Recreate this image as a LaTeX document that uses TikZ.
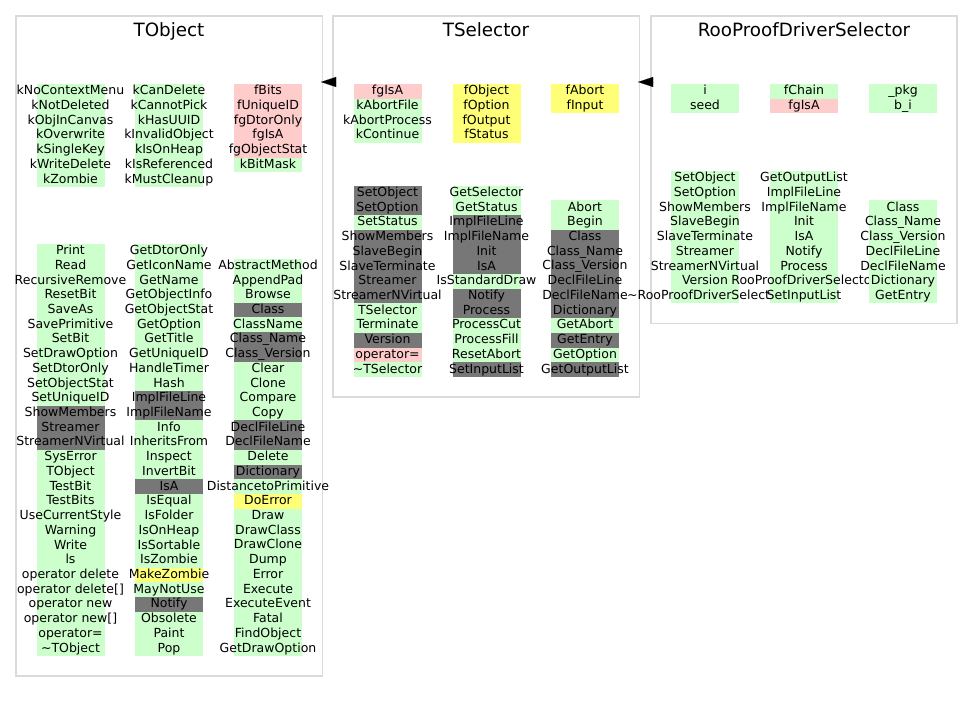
\documentclass[tikz,border=0pt]{standalone}
\usepackage{fontspec}
\setmainfont{DejaVu Sans}
\usetikzlibrary{arrows.meta}
\definecolor{cG}{RGB}{204,255,204}
\definecolor{cR}{RGB}{255,204,204}
\definecolor{cY}{RGB}{255,255,119}
\definecolor{cK}{RGB}{119,119,119}
\definecolor{boxline}{RGB}{218,218,218}
\newcommand\rh{14.72}
% #1 x centre, #2 top y, #3 list colour/text
\newcommand\colblock[3]{%
  \foreach \c/\t [count=\i from 0] in {#3} {
    \fill[\c] ({#1-34},{#2+\i*\rh}) rectangle ({#1+34},{#2+\i*\rh+\rh});
    \node[cell] at (#1,{#2+\i*\rh+10.8}) {\t};
  }}
\tikzset{
  cell/.style={anchor=base,inner sep=0pt,font=\fontsize{12.5}{14}\selectfont},
  classbox/.style={draw=boxline,line width=1.4pt},
  classtitle/.style={anchor=base,inner sep=0pt,font=\fontsize{18.3}{20}\selectfont},
  inherit/.style={-{Triangle[length=15pt,width=10pt]},line width=0.01pt},
}
\begin{document}
\begin{tikzpicture}[x=1pt,y=-1pt]
\useasboundingbox (0,0) rectangle (973,703);
% boxes
\draw[classbox] (16,16) rectangle (322.5,676);
\draw[classbox] (333,16) rectangle (639.5,397);
\draw[classbox] (651,16) rectangle (957,323.5);
\node[classtitle] (tobject) at (169,37) {TObject};
\node[classtitle] (tselector) at (486,37) {TSelector};
\node[classtitle] (rpds) at (804,37) {RooProofDriverSelector};
% inheritance arrows
\coordinate (to-tip) at (321,82);
\coordinate (ts-base) at (336,82);
\coordinate (ts-tip) at (638,82);
\coordinate (rp-base) at (653.5,82);
\draw[inherit] (ts-base) -- (to-tip);
\draw[inherit] (rp-base) -- (ts-tip);
% ---------------- TObject
\colblock{70.5}{84}{cG/kNoContextMenu,cG/kNotDeleted,cG/kObjInCanvas,cG/kOverwrite,cG/kSingleKey,cG/kWriteDelete,cG/kZombie}
\colblock{169}{84}{cG/kCanDelete,cG/kCannotPick,cG/kHasUUID,cG/kInvalidObject,cG/kIsOnHeap,cG/kIsReferenced,cG/kMustCleanup}
\colblock{268}{84}{cR/fBits,cR/fUniqueID,cR/fgDtorOnly,cR/fgIsA,cR/fgObjectStat,cG/kBitMask}
\colblock{70.5}{243.8}{cG/Print,cG/Read,cG/RecursiveRemove,cG/ResetBit,cG/SaveAs,cG/SavePrimitive,cG/SetBit,cG/SetDrawOption,cG/SetDtorOnly,cG/SetObjectStat,cG/SetUniqueID,cK/ShowMembers,cK/Streamer,cK/StreamerNVirtual,cG/SysError,cG/TObject,cG/TestBit,cG/TestBits,cG/UseCurrentStyle,cG/Warning,cG/Write,cG/ls,cG/{operator delete},cG/{operator delete[]},cG/{operator new},cG/{operator new[]},cG/{operator=},cG/{\textasciitilde TObject}}
\colblock{169}{243.8}{cG/GetDtorOnly,cG/GetIconName,cG/GetName,cG/GetObjectInfo,cG/GetObjectStat,cG/GetOption,cG/GetTitle,cG/GetUniqueID,cG/HandleTimer,cG/Hash,cK/ImplFileLine,cK/ImplFileName,cG/Info,cG/InheritsFrom,cG/Inspect,cG/InvertBit,cK/IsA,cG/IsEqual,cG/IsFolder,cG/IsOnHeap,cG/IsSortable,cG/IsZombie,cY/MakeZombie,cG/MayNotUse,cK/Notify,cG/Obsolete,cG/Paint,cG/Pop}
\colblock{268}{258.5}{cG/AbstractMethod,cG/AppendPad,cG/Browse,cK/Class,cG/ClassName,cK/{Class\_Name},cK/{Class\_Version},cG/Clear,cG/Clone,cG/Compare,cG/Copy,cK/DeclFileLine,cK/DeclFileName,cG/Delete,cK/Dictionary,cG/DistancetoPrimitive,cY/DoError,cG/Draw,cG/DrawClass,cG/DrawClone,cG/Dump,cG/Error,cG/Execute,cG/ExecuteEvent,cG/Fatal,cG/FindObject,cG/GetDrawOption}
% ---------------- TSelector
\colblock{387.5}{84}{cR/fgIsA,cG/kAbortFile,cG/kAbortProcess,cG/kContinue}
\colblock{486.5}{84}{cY/fObject,cY/fOption,cY/fOutput,cY/fStatus}
\colblock{585}{84}{cY/fAbort,cY/fInput}
\colblock{387.5}{185.6}{cK/SetObject,cK/SetOption,cG/SetStatus,cK/ShowMembers,cK/SlaveBegin,cK/SlaveTerminate,cK/Streamer,cK/StreamerNVirtual,cG/TSelector,cG/Terminate,cK/Version,cR/{operator=},cG/{\textasciitilde TSelector}}
\colblock{486.5}{185.6}{cG/GetSelector,cG/GetStatus,cK/ImplFileLine,cK/ImplFileName,cK/Init,cK/IsA,cG/IsStandardDraw,cK/Notify,cK/Process,cG/ProcessCut,cG/ProcessFill,cG/ResetAbort,cK/SetInputList}
\colblock{585}{200.3}{cG/Abort,cG/Begin,cK/Class,cK/{Class\_Name},cK/{Class\_Version},cK/DeclFileLine,cK/DeclFileName,cK/Dictionary,cG/GetAbort,cK/GetEntry,cG/GetOption,cK/GetOutputList}
% ---------------- RooProofDriverSelector
\colblock{705}{84}{cG/i,cG/seed}
\colblock{804}{84}{cG/fChain,cR/fgIsA}
\colblock{903}{84}{cG/{\_pkg},cG/{b\_i}}
\colblock{705}{171}{cG/SetObject,cG/SetOption,cG/ShowMembers,cG/SlaveBegin,cG/SlaveTerminate,cG/Streamer,cG/StreamerNVirtual,cG/Version,cG/{\textasciitilde RooProofDriverSelector}}
\colblock{804}{171}{cG/GetOutputList,cG/ImplFileLine,cG/ImplFileName,cG/Init,cG/IsA,cG/Notify,cG/Process,cG/RooProofDriverSelector,cG/SetInputList}
\colblock{903}{200.4}{cG/Class,cG/{Class\_Name},cG/{Class\_Version},cG/DeclFileLine,cG/DeclFileName,cG/Dictionary,cG/GetEntry}
\end{tikzpicture}
\end{document}
